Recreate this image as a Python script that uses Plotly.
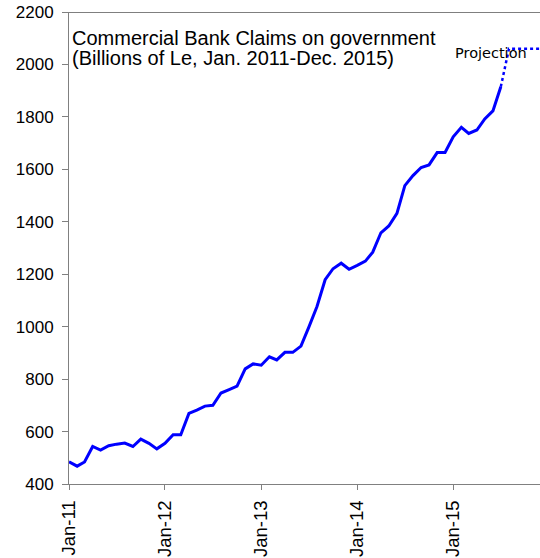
import plotly.graph_objects as go
import pandas as pd

months = pd.date_range("2011-01-01", "2015-07-01", freq="MS")
claims = [485, 468, 484, 543, 529, 546, 552, 556, 543, 571, 555, 534,
          555, 588, 588, 669, 682, 697, 700, 747, 760, 773, 839, 858,
          853, 885, 873, 902, 902, 926, 998, 1077, 1179, 1221, 1242, 1219,
          1234, 1250, 1284, 1358, 1384, 1432, 1538, 1576, 1607, 1617, 1664, 1664,
          1724, 1760, 1737, 1750, 1792, 1823, 1915]

proj_months = pd.date_range("2015-07-01", "2015-12-01", freq="MS")
projection = [1915, 2060, 2060, 2060, 2060, 2060]

tick_dates = pd.date_range("2011-01-01", "2015-01-01", freq="YS")
y_ticks = list(range(400, 2201, 200))

fig = go.Figure()
fig.add_trace(go.Scatter(x=months, y=claims, mode="lines",
                         line=dict(color="#0000FF", width=3), showlegend=False))
fig.add_trace(go.Scatter(x=proj_months, y=projection, mode="lines",
                         line=dict(color="#0000FF", width=2.5, dash="dot"), showlegend=False))

fig.update_layout(
    width=540, height=558,
    margin=dict(l=69, r=0, t=12, b=73.5),
    paper_bgcolor="white", plot_bgcolor="white",
    font=dict(family="Liberation Sans, Arial, sans-serif", size=17, color="black"),
    xaxis=dict(type="date", range=["2011-01-01", "2015-11-27"],
               tickvals=tick_dates, tickformat="%b-%y", tickangle=-90,
               tickfont=dict(size=18.5),
               ticks="outside", ticklen=5, tickcolor="#808080",
               ticklabelstandoff=3,
               showline=True, linecolor="#808080", linewidth=1,
               showgrid=False, zeroline=False, automargin=False),
    yaxis=dict(range=[400, 2200], tickvals=y_ticks,
               ticks="outside", ticklen=6, tickcolor="#808080",
               ticklabelstandoff=5,
               showline=True, linecolor="#808080", linewidth=1,
               showgrid=False, zeroline=False, automargin=False),
    shapes=[dict(type="line", xref="paper", yref="y", x0=0, x1=1, y0=2200, y1=2200,
                 line=dict(color="black", width=1))],
    annotations=[
        dict(text="Commercial Bank Claims on government", xref="paper", yref="paper",
             x=0.002, y=0.945, xanchor="left", yanchor="middle", showarrow=False,
             font=dict(size=20)),
        dict(text="(Billions of Le, Jan. 2011-Dec. 2015)", xref="paper", yref="paper",
             x=0.002, y=0.9026, xanchor="left", yanchor="middle", showarrow=False,
             font=dict(size=20)),
        dict(text="Projection", xref="paper", yref="paper",
             x=0.897, y=0.9132, xanchor="center", yanchor="middle", showarrow=False,
             font=dict(family="DejaVu Sans, sans-serif", size=14.5)),
    ],
)

# remove the browser's default 8px body margin so the figure fills the window
fig.write_html("out.html", config={"displayModeBar": False},
               post_script="document.body.style.margin='0px';")
